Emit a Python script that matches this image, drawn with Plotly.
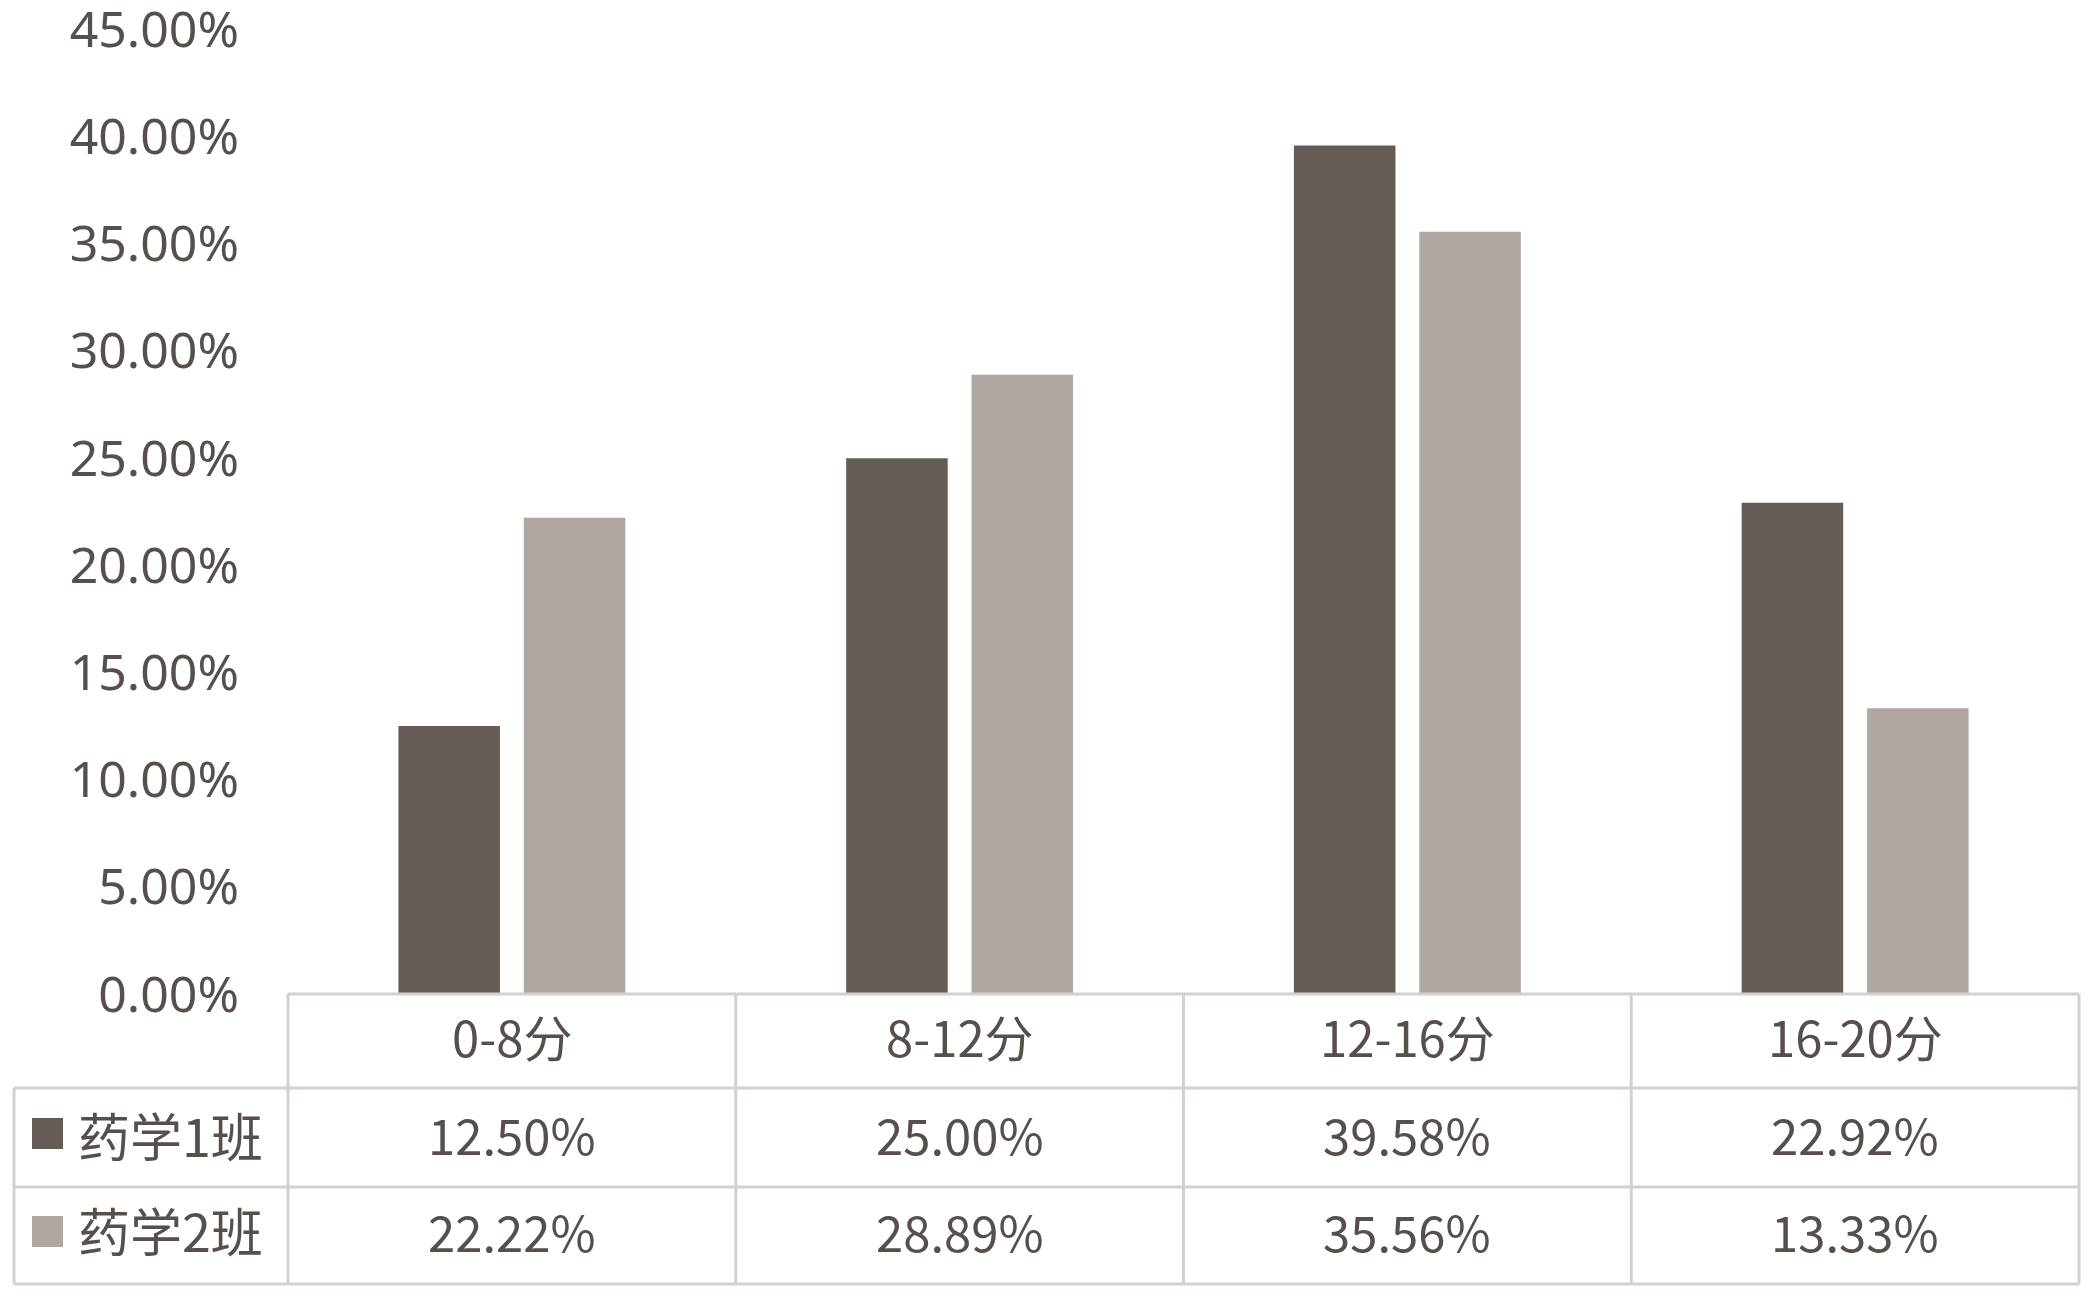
import plotly.graph_objects as go

categories = ["0-8分", "8-12分", "12-16分", "16-20分"]
series_names = ["药学1班", "药学2班"]
class1 = [12.50, 25.00, 39.58, 22.92]
class2 = [22.22, 28.89, 35.56, 13.33]
colors = ["#655B57", "#B0A7A3"]
y_ticks = [0, 5, 10, 15, 20, 25, 30, 35, 40, 45]

TEXT = "#574F4C"
GRID = "#D5D0CE"
W, H = 2093, 1299
OFF = 8  # page body margin
L, R, T, B = 288 - OFF, 22, 29 - OFF, 1299 - (994 - OFF)
pw, ph = W - L - R, H - T - B

def px(X):
    return (X - OFF - L) / pw

def py(Y):
    return (H - B - (Y - OFF)) / ph

xs = list(range(len(categories)))
fig = go.Figure()
for name, vals, col in zip(series_names, [class1, class2], colors):
    fig.add_trace(go.Bar(x=xs, y=vals, name=name, marker=dict(color=col, line=dict(width=0)),
                         showlegend=False, hoverinfo="skip"))

shapes = []
line = dict(color=GRID, width=3)
shapes.append(dict(type="line", xref="paper", yref="paper", x0=0, x1=1, y0=0, y1=0, line=line))
for Y in [1088, 1187, 1284]:
    shapes.append(dict(type="line", xref="paper", yref="paper", x0=px(14), x1=1, y0=py(Y), y1=py(Y), line=line))
shapes.append(dict(type="line", xref="paper", yref="paper", x0=px(14), x1=px(14), y0=py(1088), y1=py(1284), line=line))
n = len(categories)
for k in range(n + 1):
    xp = k / n
    shapes.append(dict(type="line", xref="paper", yref="paper", x0=xp, x1=xp, y0=0, y1=py(1284), line=line))
for (ytop, ybot), col in zip([(1118, 1149), (1216, 1247)], colors):
    shapes.append(dict(type="rect", xref="paper", yref="paper", x0=px(32), x1=px(63),
                       y0=py(ybot), y1=py(ytop), fillcolor=col, line=dict(width=0)))

ann = []
font_t = dict(family="Noto Sans CJK SC", size=49, color=TEXT)
font_l = dict(family="Noto Sans CJK SC", size=52, color=TEXT)
for i, c in enumerate(categories):
    ann.append(dict(x=i, y=py(1035), xref="x", yref="paper", text=c, showarrow=False,
                    font=font_t, xanchor="center", yanchor="middle"))
for row_y, vals in zip([1133, 1230], [class1, class2]):
    for i, v in enumerate(vals):
        ann.append(dict(x=i, y=py(row_y), xref="x", yref="paper", text=f"{v:.2f}%", showarrow=False,
                        font=font_t, xanchor="center", yanchor="middle"))
for row_y, name in zip([1134, 1229], series_names):
    ann.append(dict(x=px(76), y=py(row_y), xref="paper", yref="paper", text=name, showarrow=False,
                    font=font_l, xanchor="left", yanchor="middle"))

fig.update_layout(
    width=W, height=H,
    margin=dict(l=L, r=R, t=T, b=B, autoexpand=False),
    paper_bgcolor="white", plot_bgcolor="white",
    barmode="group", bargap=0.44, bargroupgap=0.19,
    shapes=shapes, annotations=ann,
    xaxis=dict(range=[-0.5, n - 0.5], showticklabels=False, showgrid=False, zeroline=False,
               showline=False, ticks=""),
    yaxis=dict(range=[0, 45.02], tickvals=y_ticks, ticktext=[f"{v:.2f}%" for v in y_ticks],
               showgrid=False, zeroline=False, showline=False, ticklabeloverflow="allow",
               ticks="outside", ticklen=38, tickcolor="rgba(0,0,0,0)",
               tickfont=dict(family="Noto Sans", size=50, color=TEXT)),
)

fig.write_html("out.html")
